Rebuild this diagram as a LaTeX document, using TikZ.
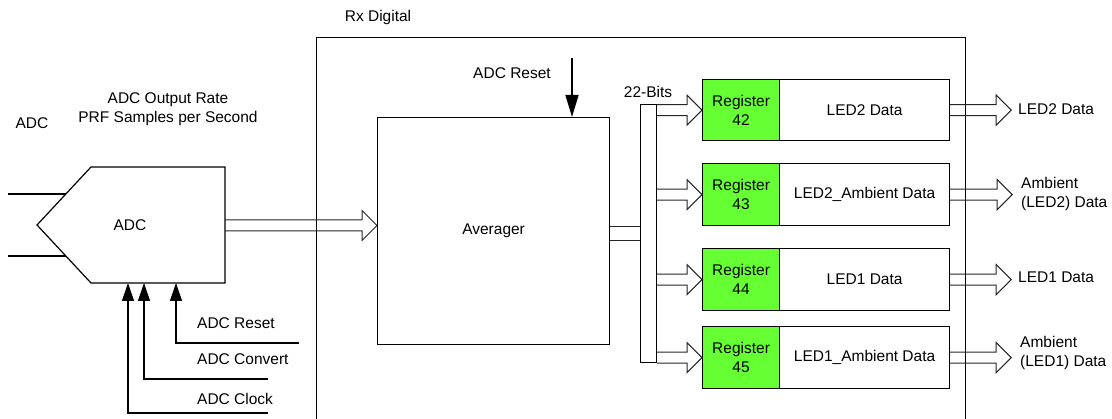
\documentclass[tikz,border=0pt]{standalone}
\usepackage{fontspec}
\setmainfont{Liberation Sans}
\usetikzlibrary{arrows.meta,calc}
\definecolor{regGreen}{RGB}{102,255,51}
\newcommand\fatarrow[2]{\draw[fat] let \p1=(#1),\p2=(#2) in
  (\x1,\y2+5.5pt) -- (\x2-15pt,\y2+5.5pt) -- (\x2-15pt,\y2+15pt) -- (\x2,\y2)
  -- (\x2-15pt,\y2-15pt) -- (\x2-15pt,\y2-5.5pt) -- (\x1,\y2-5.5pt);}
\begin{document}
\begin{tikzpicture}[x=1pt,y=-1pt,
  txt/.style={font=\fontsize{15.5}{19}\selectfont},
  lbl/.style={txt, inner sep=0pt, align=center},
  box/.style={txt, draw=black, line width=1.2pt, inner sep=0pt, align=center, anchor=north west},
  regbox/.style={box, fill=regGreen, minimum width=77pt},
  databox/.style={box, minimum width=170pt},
  fat/.style={draw=black!85, line width=1pt, line join=miter},
  ctrl/.style={draw=black, line width=1.2pt, -{Triangle[length=18pt,width=12pt]}},
  plain/.style={draw=black, line width=1.2pt}
]
\fill[white] (0,0) rectangle (1112,419);
\clip (0,0) rectangle (1112,419);

% Rx Digital frame
\node[box, minimum width=649pt, minimum height=430pt] (rx) at (316,37) {};
\node[lbl] (rxlbl) at (378,17) {Rx Digital};

% ADC block
\draw[plain] (37,225) -- (91,167) -- (225,167) -- (225,283) -- (91,283) -- cycle;
\node[lbl] (adc) at (130,225) {ADC};
\coordinate (adcE) at (225,225.5);
\node[lbl] (adctitle) at (32,123) {ADC};
\node[lbl] (rate) at (168,109.5) {ADC Output Rate\\PRF Samples per Second};

% analog inputs
\coordinate (inA) at (8,194);   \coordinate (inAe) at (66,194);
\coordinate (inB) at (8,256);   \coordinate (inBe) at (66,256);
\draw[line width=2pt] (inA) -- (inAe);
\draw[line width=2pt] (inB) -- (inBe);

% control inputs
\node[lbl, anchor=west] (lrst) at (197,323) {ADC Reset};
\node[lbl, anchor=west] (lcnv) at (197,359) {ADC Convert};
\node[lbl, anchor=west] (lclk) at (197,399) {ADC Clock};
\coordinate (rstE) at (299,343);  \coordinate (rstT) at (176,283);
\coordinate (cnvE) at (268,379);  \coordinate (cnvT) at (144,283);
\coordinate (clkE) at (268,413);  \coordinate (clkT) at (128,283);
\draw[ctrl] (rstE) -| (rstT);
\draw[ctrl] (cnvE) -| (cnvT);
\draw[ctrl] (clkE) -| (clkT);

% Averager
\node[box, minimum width=232pt, minimum height=227pt] (avg) at (377,117) {};
\node[lbl] (avglbl) at (avg.center) {Averager};
\node[lbl] (avgrst) at (512,73) {ADC Reset};
\coordinate (avgrstT) at (572,58);
\draw[draw=black, line width=1.5pt, -{Triangle[length=22pt,width=13pt]}] (avgrstT) -- (avgrstT |- avg.north);

\fatarrow{adcE}{avg.west |- adcE}

% bus
\node[draw=black, line width=1.2pt, inner sep=0pt, minimum width=16pt, minimum height=258pt, anchor=north west] (bus) at (640,104) {};
\node[lbl] (bits) at (648,92) {22-Bits};
\draw[fat] ($(avg.east |- bus.west)+(0,-7)$) -- ($(bus.west)+(0,-7)$);
\draw[fat] ($(avg.east |- bus.west)+(0,7)$) -- ($(bus.west)+(0,7)$);

% registers
\node[regbox, minimum height=61pt] (r42) at (702,79) {Register\\42};
\node[regbox, minimum height=62pt] (r43) at (702,163) {Register\\43};
\node[regbox, minimum height=62pt] (r44) at (702,248) {Register\\44};
\node[regbox, minimum height=62pt] (r45) at (702,326) {Register\\45};

\node[databox, minimum height=61pt] (d42) at (779,79) {LED2 Data};
\node[databox, minimum height=62pt] (d43) at (779,163) {LED2\_Ambient Data};
\node[databox, minimum height=62pt] (d44) at (779,248) {LED1 Data};
\node[databox, minimum height=62pt] (d45) at (779,326) {LED1\_Ambient Data};

\fatarrow{bus.east |- r42.west}{r42.west}
\fatarrow{bus.east |- r43.west}{r43.west}
\fatarrow{bus.east |- r44.west}{r44.west}
\fatarrow{bus.east |- r45.west}{r45.west}

% outputs
\coordinate (o42) at ($(d42.east)+(61,0)$);
\coordinate (o43) at ($(d43.east)+(62,0)$);
\coordinate (o44) at ($(d44.east)+(61,0)$);
\coordinate (o45) at ($(d45.east)+(61,0)$);
\fatarrow{d42.east}{o42}
\fatarrow{d43.east}{o43}
\fatarrow{d44.east}{o44}
\fatarrow{d45.east}{o45}

\node[lbl, anchor=west] (t42) at (1018,109) {LED2 Data};
\node[lbl, anchor=west, align=left] (t43) at (1021,194) {Ambient\\(LED2) Data};
\node[lbl, anchor=west] (t44) at (1018,277) {LED1 Data};
\node[lbl, anchor=west, align=left] (t45) at (1020,353) {Ambient\\(LED1) Data};
\end{tikzpicture}
\end{document}
